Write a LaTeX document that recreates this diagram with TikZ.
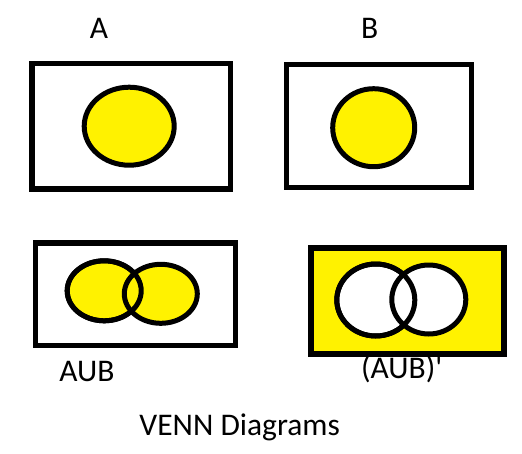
\documentclass[tikz,border=0pt]{standalone}
\usepackage{fontspec}
\setmainfont{Carlito}
\usetikzlibrary{shapes.geometric}
\definecolor{pyellow}{RGB}{255,242,0}
\begin{document}
\begin{tikzpicture}[x=1pt,y=-1pt,
  frame/.style={draw=black,line width=5.5pt,inner sep=0pt,rectangle},
  setshape/.style={ellipse,draw=black,line width=5pt,inner sep=0pt},
  setline/.style={draw=black,line width=5pt},
  lbl/.style={font=\fontsize{31.5}{38}\selectfont,anchor=base,inner sep=0pt}]
\useasboundingbox (0,0) rectangle (522,453);
% A
\node[frame,minimum width=198.5pt,minimum height=125.5pt] (ra) at (131.25,126.25) {};
\node[setshape,fill=pyellow,minimum width=90pt,minimum height=78pt] (sa) at (129.2,126.2) {};
% B
\node[frame,minimum width=185.2pt,minimum height=123pt] (rb) at (378.9,126) {};
\node[setshape,fill=pyellow,minimum width=82pt,minimum height=78pt] (sb) at (373.7,127.7) {};
% A U B
\node[frame,minimum width=200pt,minimum height=102.5pt] (ru) at (135.5,294.25) {};
\node[setshape,fill=pyellow,minimum width=74pt,minimum height=60pt] (ul) at (104.2,290.8) {};
\node[setshape,fill=pyellow,minimum width=73pt,minimum height=59pt] (ur) at (160.8,293.8) {};
\draw[setline] (ul.center) ellipse [x radius=37, y radius=30];
% (A U B)'
\node[frame,fill=pyellow,minimum width=193pt,minimum height=106pt] (rc) at (407.5,301) {};
\node[setshape,fill=white,minimum width=78pt,minimum height=72pt] (cl) at (375.8,300) {};
\node[setshape,fill=white,minimum width=74pt,minimum height=69pt] (cr) at (428.8,299.5) {};
\draw[setline] (cl.center) ellipse [x radius=39, y radius=36];
% labels
\node[lbl] (la) at (99,38) {A};
\node[lbl] (lb) at (369.7,38) {B};
\node[lbl] (lu) at (87,381) {AUB};
\node[lbl] (lc) at (401.7,378) {(AUB)\textquotesingle};
\node[lbl] (lt) at (239.7,435) {VENN Diagrams};
\end{tikzpicture}
\end{document}
